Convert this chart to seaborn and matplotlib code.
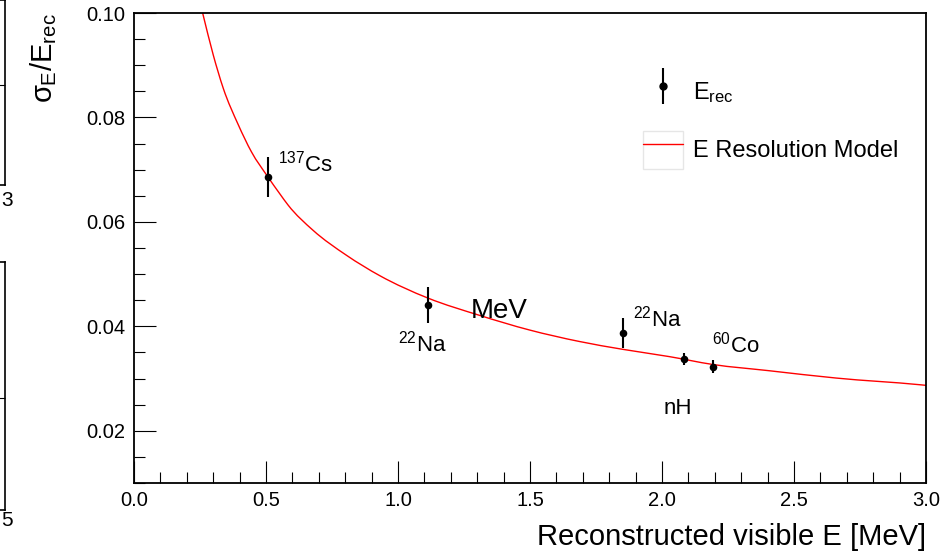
import matplotlib
matplotlib.use("Agg")
import matplotlib.pyplot as plt
from matplotlib.path import Path
from matplotlib.patches import PathPatch, Rectangle
from matplotlib.lines import Line2D
from matplotlib.legend_handler import HandlerErrorbar, HandlerTuple
import numpy as np
import pandas as pd
import seaborn as sns

# Calibration source measurements: energy, relative resolution and its error
sources = ["$^{137}$Cs", "$^{22}$Na", "$^{22}$Na", "nH", "$^{60}$Co"]
e_rec = [0.506, 1.114, 1.851, 2.082, 2.192]
res = [0.0686, 0.0441, 0.0387, 0.0337, 0.0323]
res_err = [0.0039, 0.0035, 0.0029, 0.0011, 0.0012]

# Resolution model curve samples
model_e = [0.260, 0.300, 0.338, 0.395, 0.445, 0.506, 0.552, 0.584, 0.678, 0.805,
           0.931, 1.114, 1.309, 1.498, 1.687, 1.851, 2.028, 2.192, 2.406, 2.659,
           2.980, 3.000]
model_res = [0.1000, 0.0920, 0.0856, 0.0786, 0.0734, 0.0687, 0.0654, 0.0632, 0.0584, 0.0536,
             0.0497, 0.0454, 0.0421, 0.0393, 0.0371, 0.0356, 0.0342, 0.0327, 0.0315, 0.0301,
             0.0288, 0.0287]

# Source label anchor positions (data coordinates)
label_x = [0.545, 0.999, 1.892, 2.005, 2.191]
label_y = [0.0697, 0.0351, 0.0399, 0.0232, 0.0349]

sns.set_theme(style="ticks")
plt.rcParams["font.family"] = ["Liberation Sans", "DejaVu Sans"]
plt.rcParams["mathtext.fontset"] = "custom"
plt.rcParams["mathtext.rm"] = "Liberation Sans"
plt.rcParams["mathtext.it"] = "Liberation Sans"
plt.rcParams["mathtext.bf"] = "Liberation Sans:bold"
plt.rcParams["mathtext.sf"] = "Liberation Sans"
for key in ["text.color", "axes.labelcolor", "xtick.color", "ytick.color", "axes.edgecolor"]:
    plt.rcParams[key] = "black"

fig = plt.figure(figsize=(9.45, 5.52), dpi=100)
fig.patch.set_facecolor("white")

# fragments of the neighbouring panels at the left edge
for (bot, top, tick_frac, lab, lab_y) in [(185, 0, 0.54, "3", 200), (510, 262, 0.45, "5", 520)]:
    axl = fig.add_axes([-0.3, 1 - bot / 552, 0.3 + 5 / 945, (bot - top) / 552])
    axl.set_xlim(0, 1)
    axl.set_ylim(0, 1)
    axl.set_xticks([])
    axl.yaxis.tick_right()
    axl.set_yticks([tick_frac])
    axl.set_yticklabels([])
    axl.tick_params(axis="y", direction="in", length=8, width=0.8, color="black")
    for s in axl.spines.values():
        s.set_color("black")
        s.set_linewidth(1.2)
    axl.set_facecolor("white")
    fig.text(1 / 945, 1 - lab_y / 552, lab, fontsize=15, ha="left", va="center")

ax = fig.add_axes([134 / 945, 1 - 483 / 552, (926 - 134) / 945, (483 - 13) / 552])

# smooth model curve: cubic Hermite segments through the samples
mx = np.asarray(model_e)
my = np.asarray(model_res)
slopes = np.gradient(my, mx)
verts = [(mx[0], my[0])]
codes = [Path.MOVETO]
for i in range(len(mx) - 1):
    h = (mx[i + 1] - mx[i]) / 3.0
    verts += [(mx[i] + h, my[i] + h * slopes[i]),
              (mx[i + 1] - h, my[i + 1] - h * slopes[i + 1]),
              (mx[i + 1], my[i + 1])]
    codes += [Path.CURVE4] * 3
ax.add_patch(PathPatch(Path(verts, codes), fill=False, edgecolor="red", linewidth=1.0,
                       transform=ax.transData, zorder=2))

# measured points with error bars
eb = ax.errorbar(e_rec, res, yerr=res_err, fmt="none", ecolor="black",
                 elinewidth=1.5, capsize=0, zorder=3)
pts = pd.DataFrame({"E": e_rec, "res": res})
sns.scatterplot(data=pts, x="E", y="res", ax=ax, color="black", s=30,
                edgecolor="black", linewidth=0, zorder=4, legend=False)

for name, lx, ly in zip(sources, label_x, label_y):
    ax.text(lx, ly, name, fontsize=16, ha="left", va="baseline")

ax.text(1.275, 0.0416, "MeV", fontsize=20, ha="left", va="baseline")

ax.set_xlim(0, 3.0)
ax.set_ylim(0.01, 0.10)
ax.set_xticks(np.arange(0, 3.01, 0.5))
ax.set_xticks(np.arange(0, 3.01, 0.1), minor=True)
ax.set_yticks([0.02, 0.04, 0.06, 0.08, 0.10])
ax.set_yticks(np.arange(0.01, 0.1001, 0.005), minor=True)
ax.xaxis.set_major_formatter(matplotlib.ticker.FormatStrFormatter("%.1f"))
ax.yaxis.set_major_formatter(matplotlib.ticker.FormatStrFormatter("%.2f"))
ax.tick_params(which="major", direction="in", length=16, width=0.8, labelsize=14.5,
               top=False, right=False, pad=6, colors="black")
ax.tick_params(which="minor", direction="in", length=8, width=0.8,
               top=False, right=False)
for s in ax.spines.values():
    s.set_color("black")
    s.set_linewidth(1.3)
    s.set_visible(True)
ax.set_xlabel("Reconstructed visible E [MeV]", fontsize=21, loc="right", labelpad=9)
ax.set_ylabel(r"$\sigma_{E}/E_{rec}$", fontsize=21, loc="top", labelpad=20)

# legend: error bar with marker, and the model line inside a faint box
pt_handle = Line2D([], [], marker="o", color="black", markersize=5, linestyle="none")
box = Rectangle((0, 0), 1, 1, facecolor="white", edgecolor="#e6e6e6", linewidth=1.0)
red = Line2D([], [], color="red", linewidth=1.0)
leg = ax.legend([(eb, pt_handle), (box, red)], [r"E$_{\rm rec}$", "E Resolution Model"],
                handler_map={type(eb): HandlerErrorbar(yerr_size=0.76),
                             tuple: HandlerTuple(ndivide=1, pad=0)},
                loc="upper left", bbox_to_anchor=(0.6427, 0.873), frameon=False,
                fontsize=17, handlelength=1.7, handleheight=2.1, handletextpad=0.4,
                labelspacing=0.86, borderpad=0, borderaxespad=0)

fig.savefig("out.png", dpi=100, facecolor="white")
